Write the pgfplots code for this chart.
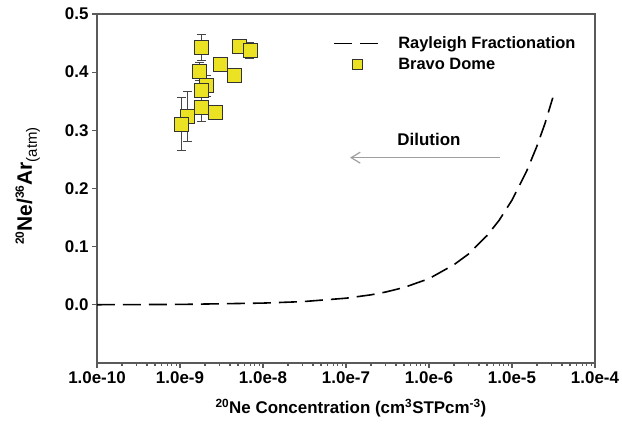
\documentclass[border=0pt]{standalone}
\usepackage{fontspec}
\setmainfont{Liberation Sans}
\usepackage{pgfplots}
\pgfplotsset{compat=1.18}
\usetikzlibrary{arrows.meta}

\definecolor{mk}{RGB}{236,226,36}
\definecolor{axgray}{RGB}{90,90,90}
\definecolor{errgray}{RGB}{70,70,70}

\newcommand{\bigbf}{\fontsize{17}{20}\selectfont\bfseries}
\newcommand{\ysup}[1]{\raisebox{8bp}{\fontsize{12}{12}\selectfont #1}}
\newcommand{\ysub}[1]{\raisebox{-5bp}{\fontsize{15}{15}\selectfont\mdseries #1}}

\pgfplotsset{
  rayleg/.style={legend image code/.code={\draw[##1] (0bp,0bp) -- (46bp,0bp);}},
  bravoleg/.style={legend image code/.code={\draw[##1, mark size=5bp] plot coordinates {(23bp,0bp)};}},
}

\begin{document}
\begin{tikzpicture}
\begin{axis}[
  scale only axis, width=498bp, height=349bp,
  xmode=log, xmin=1e-10, xmax=1e-4,
  ymin=-0.1, ymax=0.5,
  xtick={1e-10,1e-9,1e-8,1e-7,1e-6,1e-5,1e-4},
  xticklabels={1.0e-10,1.0e-9,1.0e-8,1.0e-7,1.0e-6,1.0e-5,1.0e-4},
  ytick={0,0.1,0.2,0.3,0.4,0.5},
  yticklabels={0.0,0.1,0.2,0.3,0.4,0.5},
  minor xtick={}, minor ytick={},
  xtick pos=left, ytick pos=left,
  tick align=outside, major tick length=5bp,
  axis line style={axgray, line width=1.1bp},
  every tick/.style={axgray, line width=1.1bp},
  tick label style={font=\bigbf},
  label style={font=\bigbf},
  xlabel={\textsuperscript{20}Ne Concentration (cm\textsuperscript{3}STPcm\textsuperscript{-3})},
  ylabel={\fontsize{21}{24}\selectfont\ysup{20}Ne/\ysup{36}Ar\ysub{(atm)}},
  xlabel style={at={(axis description cs:0.51,-0.129)}, anchor=center},
  ylabel style={at={(axis description cs:-0.139,0.507)}, anchor=center},
  legend style={draw=none, fill=none, inner sep=0pt,
    at={(axis description cs:0.474,0.94)}, anchor=north west,
    font=\fontsize{16.5}{18}\selectfont\bfseries,
    nodes={inner sep=1.5bp}, row sep=5bp,
    /tikz/every odd column/.append style={column sep=16bp}},
  legend cell align=left,
]
\addplot[black, line width=1.6bp, dash pattern=on 18bp off 8bp, mark=none, rayleg]
  coordinates {
  (1e-10,0.0002) (1e-9,0.0007) (1e-8,0.003) (3e-8,0.0055) (1e-7,0.0114)
  (2e-7,0.0172) (3e-7,0.022) (5e-7,0.0298) (1e-6,0.045) (2e-6,0.069)
  (3e-6,0.0874) (5e-6,0.119) (7e-6,0.1453) (1e-5,0.18) (1.5e-5,0.2297)
  (2e-5,0.273) (2.5e-5,0.312) (3.1e-5,0.356)
  };
\addlegendentry{Rayleigh Fractionation}
\addplot[only marks, mark=square*, mark size=7bp,
  mark options={fill=mk, draw=black!80, line width=0.7bp}, bravoleg,
  error bars/.cd, y dir=both, y explicit,
  error bar style={errgray, line width=0.8bp},
  error mark options={rotate=90, mark size=4.5bp, errgray, line width=0.8bp}]
  coordinates {
  (1.82e-9,0.443) +- (0,0.022)
  (5.18e-9,0.444) +- (0,0.011)
  (6.97e-9,0.437) +- (0,0.014)
  (3.09e-9,0.414) +- (0,0.009)
  (4.48e-9,0.395) +- (0,0.005)
  (1.71e-9,0.401) +- (0,0.015)
  (2.06e-9,0.377) +- (0,0.018)
  (1.82e-9,0.368) +- (0,0.010)
  (1.82e-9,0.340) +- (0,0.025)
  (2.69e-9,0.331) +- (0,0.008)
  (1.22e-9,0.324) +- (0,0.0435)
  (1.05e-9,0.311) +- (0,0.045)
  };
\addlegendentry{Bravo Dome}
\node[font=\bigbf] at (axis cs:1e-6,0.285) {Dilution};
\draw[gray!75, line width=1.3bp, -{Straight Barb[length=9bp, width=11bp, line width=1.2bp]}]
  (axis cs:7.2e-6,0.253) -- (axis cs:1.12e-7,0.253);
\coordinate (sw) at (rel axis cs:0,0);
\end{axis}
\pgfresetboundingbox
\path (sw) ++(-97bp,-70bp) coordinate (bbA);
\path (sw) ++(525bp,363bp) coordinate (bbB);
\useasboundingbox (bbA) rectangle (bbB);
\end{tikzpicture}
\end{document}
